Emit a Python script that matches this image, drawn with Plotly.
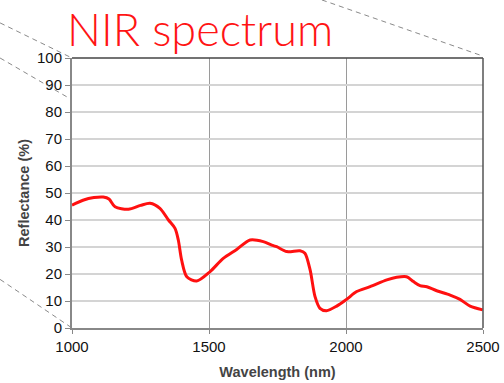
import plotly.graph_objects as go

wavelength = [1000, 1040, 1080, 1114, 1135, 1157, 1206, 1250, 1285, 1321, 1352, 1376, 1388, 1400,
              1419, 1455, 1504, 1552, 1601, 1650, 1698, 1729, 1747, 1784, 1832, 1850, 1869,
              1887, 1905, 1929, 1966, 2002, 2039, 2088, 2149, 2185, 2221, 2246, 2270, 2295,
              2331, 2380, 2416, 2453, 2499]
reflectance = [45.5, 47.3, 48.3, 48.5, 47.8, 44.9, 44.0, 45.4, 46.2, 44.3, 40.0, 36.9, 32.6, 25.2,
               19.0, 17.4, 20.9, 25.8, 29.1, 32.6, 32.0, 30.7, 30.1, 28.3, 28.6, 27.7, 21.5,
               11.6, 7.3, 6.4, 8.1, 10.6, 13.5, 15.3, 17.8, 18.8, 19.0, 17.2, 15.7, 15.3,
               13.8, 12.2, 10.6, 8.1, 6.7]
x_ticks = [1000, 1500, 2000, 2500]
y_ticks = [0, 10, 20, 30, 40, 50, 60, 70, 80, 90, 100]

fig = go.Figure()
fig.add_trace(go.Scatter(x=wavelength, y=reflectance, mode="lines",
                         line=dict(color="#ff1010", width=3, shape="spline", smoothing=0.8),
                         hoverinfo="skip"))

dash = dict(color="#8a8a8a", width=1, dash="5px,4px")
shapes = [
    dict(type="line", xref="paper", yref="paper", x0=-0.175, y0=1.13, x1=0, y1=1.0, line=dash),
    dict(type="line", xref="paper", yref="paper", x0=-0.175, y0=1.0, x1=0, y1=0.845, line=dash),
    dict(type="line", xref="paper", yref="paper", x0=-0.175, y0=0.18, x1=0, y1=0.0, line=dash),
    dict(type="line", xref="paper", yref="paper", x0=0.608, y0=1.215, x1=1, y1=1.007, line=dash),
    # top & right border
    dict(type="line", xref="paper", yref="paper", x0=0, y0=1, x1=1, y1=1,
         line=dict(color="#444444", width=1.5)),
    dict(type="line", xref="paper", yref="paper", x0=1, y0=0, x1=1, y1=1,
         line=dict(color="#555555", width=1.5)),
]

fig.update_layout(
    width=504, height=383,
    margin=dict(l=72, r=21, t=58, b=55, autoexpand=False),
    paper_bgcolor="white", plot_bgcolor="white",
    showlegend=False,
    shapes=shapes,
    font=dict(family="Arial, Liberation Sans, sans-serif", color="#111111"),
    annotations=[dict(text="NIR spectrum", xref="paper", yref="paper", x=-0.016, y=1.107,
                      xanchor="left", yanchor="middle", showarrow=False,
                      font=dict(family="Lato", size=45, color="#ff1414", weight=300))],
    xaxis=dict(range=[1000, 2500], tickvals=x_ticks, ticks="outside", ticklen=4,
               tickcolor="#888888", showgrid=True, gridcolor="#9a9a9a", gridwidth=1,
               showline=True, linecolor="#888888", linewidth=2, zeroline=False,
               automargin=False,
               tickfont=dict(size=15, color="#111111"),
               title=dict(text="<b>Wavelength (nm)</b>", font=dict(size=14.5, color="#444444"),
                          standoff=13)),
    yaxis=dict(range=[0, 100], tickvals=y_ticks, ticks="outside", ticklen=5,
               tickcolor="#888888", showgrid=True, gridcolor="#d4d4d4", gridwidth=1.5,
               showline=True, linecolor="#888888", linewidth=2, zeroline=False,
               automargin=False,
               tickfont=dict(size=15, color="#111111"),
               title=dict(text="<b>Reflectance (%)</b>", font=dict(size=14.5, color="#444444"),
                          standoff=4)),
)

fig.write_html("out.html")
